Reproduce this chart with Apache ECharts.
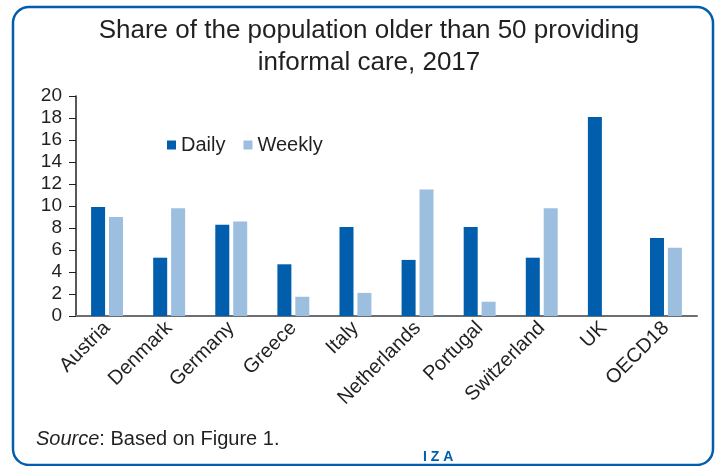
<!DOCTYPE html>
<html>
<head>
<meta charset="utf-8">
<script src="https://cdn.jsdelivr.net/npm/echarts@6/dist/echarts.min.js"></script>
<style>
html,body{margin:0;padding:0;background:#fff;}
#c{width:721px;height:466px;}
</style>
</head>
<body>
<div id="c"></div>
<script>
var categories = ['Austria','Denmark','Germany','Greece','Italy','Netherlands','Portugal','Switzerland','UK','OECD18'];
var daily = [9.9, 5.3, 8.3, 4.7, 8.1, 5.1, 8.1, 5.3, 18.1, 7.1];
var weekly = [9.0, 9.8, 8.6, 1.75, 2.1, 11.5, 1.3, 9.8, null, 6.2];
var FONT = 'Liberation Sans';
var chart = echarts.init(document.getElementById('c'));
chart.setOption({
  animation: false,
  backgroundColor: '#fff',
  title: {
    text: 'Share of the population older than 50 providing\ninformal care, 2017',
    left: 364, top: 10, textAlign: 'center',
    textStyle: {fontFamily: FONT, fontSize: 26, fontWeight: 'normal', color: '#231f20', lineHeight: 32}
  },
  legend: {
    left: 162, top: 130,
    itemWidth: 9, itemHeight: 9, itemGap: 18,
    icon: 'rect',
    textStyle: {fontFamily: FONT, fontSize: 20, color: '#231f20', padding: [0,0,0,0]},
    data: ['Daily','Weekly']
  },
  grid: {left: 76, right: 24, top: 96, bottom: 150},
  xAxis: {
    type: 'category', data: categories,
    axisLine: {lineStyle: {color: '#6d6e71', width: 2}},
    axisTick: {show: false},
    axisLabel: {rotate: 45, interval: 0, margin: 9, fontFamily: FONT, fontSize: 20, color: '#231f20'}
  },
  yAxis: {
    type: 'value', min: 0, max: 20, interval: 2,
    axisLine: {show: true, lineStyle: {color: '#231f20', width: 1.5}},
    axisTick: {show: true, length: 7, lineStyle: {color: '#231f20'}},
    splitLine: {show: false},
    axisLabel: {margin: 14, fontFamily: FONT, fontSize: 19, color: '#231f20'}
  },
  series: [
    {name: 'Daily', type: 'bar', data: daily, barWidth: 14, barGap: '28%', itemStyle: {color: '#005eac'}},
    {name: 'Weekly', type: 'bar', data: weekly, barWidth: 14, itemStyle: {color: '#9cbfe0'}}
  ],
  graphic: [
    {type: 'rect', shape: {x: 13, y: 7, width: 700, height: 458, r: 16}, silent: true,
     style: {fill: 'none', stroke: '#005eac', lineWidth: 2.5}},
    {type: 'text', left: 36, top: 429, style: {text: '{i|Source}: Based on Figure 1.', fill: '#231f20',
      font: '20px ' + FONT, rich: {i: {fontStyle: 'italic', fontFamily: FONT, fontSize: 20, fill: '#231f20'}}}},
    {type: 'text', left: 423, top: 450, style: {text: 'I Z A', fill: '#005eac', font: 'bold 14px ' + FONT}}
  ]
});
</script>
</body>
</html>
